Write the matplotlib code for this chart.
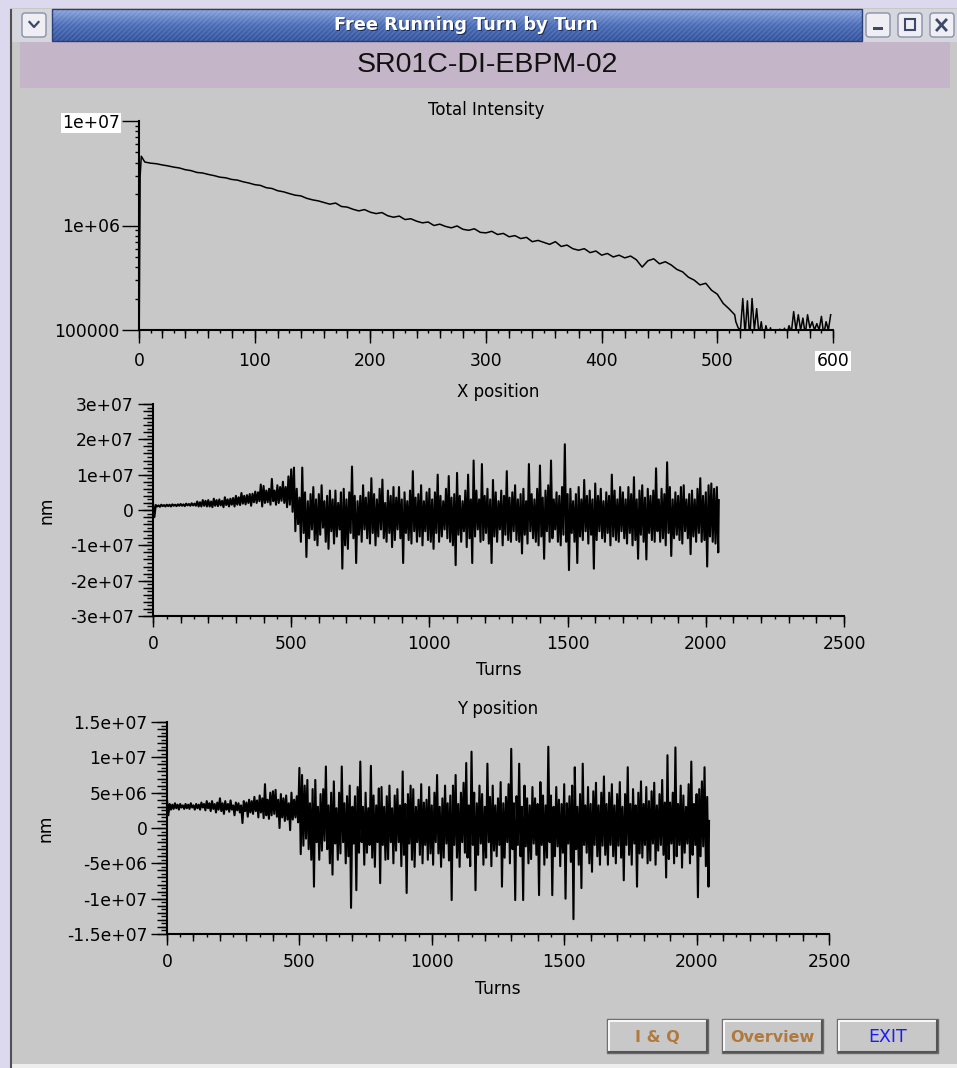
import numpy as np
import matplotlib
matplotlib.use("Agg")
import matplotlib.pyplot as plt
from matplotlib.ticker import MultipleLocator, FixedLocator, FuncFormatter, LogLocator, NullFormatter, NullLocator
from matplotlib.patches import Rectangle, FancyBboxPatch
from matplotlib.colors import LinearSegmentedColormap

# ---- data ----
# Total intensity (units of 1e6): turns 0,1,2, every 5 turns to 515, then every 2 turns
intensity_turns = [0, 1, 2] + list(range(5, 516, 5)) + list(range(516, 599, 2))
intensity_1e6 = [0.05, 3.0, 4.6,
    4.05, 3.95, 3.9, 3.8, 3.72, 3.62, 3.55, 3.42, 3.35, 3.22,
    3.18, 3.08, 3.0, 2.9, 2.86, 2.76, 2.72, 2.62, 2.55, 2.46,
    2.42, 2.3, 2.26, 2.15, 2.1, 2.02, 1.95, 1.92, 1.82, 1.76,
    1.72, 1.66, 1.6, 1.64, 1.52, 1.5, 1.43, 1.38, 1.42, 1.34,
    1.3, 1.33, 1.24, 1.2, 1.23, 1.14, 1.16, 1.1, 1.06, 1.08,
    1.0, 1.03, 0.98, 0.95, 0.99, 0.92, 0.9, 0.93, 0.86, 0.85,
    0.88, 0.82, 0.84, 0.78, 0.8, 0.75, 0.77, 0.7, 0.72, 0.69,
    0.66, 0.7, 0.63, 0.65, 0.6, 0.58, 0.6, 0.55, 0.57, 0.52,
    0.54, 0.5, 0.52, 0.49, 0.51, 0.47, 0.4, 0.46, 0.48, 0.43,
    0.45, 0.42, 0.38, 0.36, 0.32, 0.3, 0.27, 0.28, 0.24, 0.22,
    0.18, 0.16, 0.14,
    0.12, 0.105, 0.1, 0.2, 0.09, 0.19, 0.08, 0.2, 0.1, 0.16,
    0.09, 0.12, 0.08, 0.11, 0.09, 0.105, 0.08, 0.09, 0.07, 0.102,
    0.08, 0.104, 0.09, 0.11, 0.095, 0.15, 0.1, 0.14, 0.1, 0.13,
    0.09, 0.14, 0.105, 0.12, 0.1, 0.115, 0.1, 0.135, 0.09, 0.12,
    0.1, 0.14]

# X / Y position (units of 1e6 nm): highest and lowest reading in each 10-turn bin
bin_turns = list(range(0, 2041, 10))
last_turn = 2047
x_hi_1e6 = [
    2.0, 1.4, 1.3, 1.5, 1.4, 1.5, 1.5, 1.6, 1.5, 1.6,
    1.7, 1.6, 1.8, 1.7, 1.9, 1.8, 2.4, 2.2, 2.8, 2.6,
    2.8, 2.4, 3.2, 2.8, 3.0, 2.6, 3.6, 3.0, 3.2, 3.4,
    4.0, 3.6, 4.8, 4.0, 4.2, 4.5, 4.6, 5.2, 5.0, 7.2,
    6.8, 5.5, 6.0, 8.8, 5.5, 7.0, 6.5, 8.0, 6.5, 9.5,
    11.5, 12.0, 6.0, 3.5, 12.0, 5.0, 2.5, 4.5, 6.5, 3.0,
    4.5, 7.0, 2.5, 4.0, 5.5, 3.0, 5.5, 2.0, 5.0, 6.0,
    3.0, 5.0, 12.3, 4.0, 2.5, 4.0, 7.0, 3.5, 5.0, 9.0,
    4.5, 3.0, 6.0, 8.6, 2.0, 5.5, 4.0, 6.5, 3.5, 6.5,
    3.0, 5.0, 2.5, 5.5, 11.0, 3.5, 4.5, 7.0, 2.5, 5.0,
    6.0, 3.0, 5.0, 10.0, 4.0, 2.5, 6.0, 9.6, 3.5, 4.5,
    10.5, 4.0, 2.5, 5.5, 10.0, 3.0, 14.0, 5.5, 3.0, 13.0,
    4.0, 6.0, 3.0, 8.5, 5.0, 2.5, 5.5, 4.0, 11.0, 3.5,
    5.0, 7.0, 3.0, 4.5, 6.0, 2.5, 13.0, 4.5, 3.0, 6.0,
    12.6, 3.5, 5.5, 7.0, 14.0, 3.0, 5.0, 4.0, 6.5, 18.6,
    4.5, 6.0, 2.5, 4.5, 6.5, 3.0, 8.5, 4.0, 5.5, 3.0,
    7.5, 4.0, 6.0, 2.5, 5.0, 4.0, 10.0, 5.5, 3.0, 6.5,
    5.0, 3.0, 6.5, 4.5, 9.3, 3.0, 5.5, 7.0, 3.5, 6.0,
    4.0, 5.5, 11.8, 3.0, 6.0, 4.5, 13.5, 6.5, 3.0, 5.0,
    4.0, 6.5, 7.0, 3.0, 4.5, 5.5, 3.0, 6.0, 9.0, 4.0,
    5.0, 7.0, 7.5, 6.0, 6.5]
x_lo_1e6 = [
    -2.0, 1.0, 0.9, 1.1, 1.0, 1.1, 1.0, 1.2, 1.1, 1.2,
    1.2, 1.1, 1.3, 1.2, 1.3, 1.2, 1.0, 1.0, 1.2, 1.0,
    1.0, 0.8, 1.2, 1.1, 1.3, 0.8, 1.4, 1.0, 1.5, 1.0,
    1.5, 1.4, 1.8, 1.6, 2.0, 1.2, 2.2, 2.0, 2.5, 1.0,
    2.0, 2.2, 1.5, 2.5, 1.5, 2.0, 2.6, 2.0, 0.8, 1.5,
    -0.5, -6.0, -4.0, -9.0, -6.5, -13.3, -8.0, -5.5, -8.5, -10.0,
    -7.0, -5.0, -9.0, -11.0, -6.0, -9.5, -7.5, -5.5, -16.6, -10.0,
    -11.0, -6.5, -8.0, -15.0, -7.0, -9.0, -5.5, -8.0, -9.5, -6.5,
    -10.0, -7.5, -5.5, -8.0, -9.0, -6.5, -10.5, -8.5, -5.5, -8.0,
    -15.0, -6.5, -8.5, -9.5, -6.0, -9.0, -7.5, -10.0, -6.0, -8.5,
    -9.0, -11.0, -6.5, -9.0, -7.5, -5.5, -8.0, -9.0, -10.0, -15.6,
    -7.0, -9.0, -6.0, -10.5, -8.0, -15.0, -7.5, -5.5, -9.0, -8.5,
    -6.5, -9.5, -15.0, -7.5, -9.0, -5.5, -10.0, -7.0, -8.5, -9.0,
    -6.0, -8.5, -9.0, -12.3, -7.0, -9.5, -6.0, -8.0, -9.0, -10.0,
    -7.5, -13.8, -6.0, -9.0, -8.0, -5.5, -9.0, -10.0, -7.0, -9.0,
    -17.0, -6.5, -9.0, -15.0, -7.5, -8.5, -6.0, -9.5, -7.0, -16.6,
    -8.5, -6.0, -8.0, -9.0, -6.5, -10.0, -7.5, -8.5, -9.0, -6.0,
    -8.0, -9.5, -6.5, -10.0, -8.5, -13.8, -7.0, -9.0, -14.0, -6.5,
    -8.5, -9.0, -6.0, -9.0, -8.0, -10.0, -6.5, -13.0, -8.0, -7.0,
    -8.5, -9.5, -6.0, -8.0, -12.5, -7.5, -9.0, -6.5, -9.0, -8.5,
    -16.0, -7.5, -9.0, -9.5, -12.0]
x_last_1e6 = 2.8
y_hi_1e6 = [
    4.0, 3.4, 3.3, 3.5, 3.3, 3.4, 3.2, 3.4, 3.3, 3.5,
    3.2, 3.4, 3.3, 3.6, 3.4, 3.8, 3.5, 3.8, 3.4, 3.6,
    4.2, 3.5, 3.8, 3.4, 3.9, 3.2, 3.6, 3.5, 3.2, 3.8,
    3.6, 4.0, 3.8, 4.4, 3.9, 4.6, 4.2, 6.2, 4.0, 5.0,
    5.2, 5.4, 4.0, 4.8, 4.2, 4.6, 3.5, 5.0, 4.0, 4.5,
    8.5, 7.5, 6.0, 6.8, 3.5, 5.5, 6.8, 3.0, 4.8, 5.5,
    8.7, 3.2, 5.0, 6.6, 2.8, 5.0, 8.7, 3.5, 4.5, 6.0,
    3.0, 4.5, 5.8, 9.4, 3.0, 5.0, 2.8, 8.8, 4.6, 3.2,
    5.6, 5.8, 3.0, 4.5, 6.0, 2.8, 4.6, 5.5, 3.2, 8.0,
    3.4, 4.8, 6.0, 5.5, 3.0, 4.0, 6.2, 3.6, 4.0, 5.8,
    3.2, 5.0, 7.5, 3.0, 4.2, 6.0, 3.5, 4.6, 6.0, 7.5,
    3.4, 5.0, 6.4, 9.2, 3.2, 10.8, 5.0, 3.5, 6.0, 4.8,
    3.0, 9.1, 4.4, 6.0, 3.2, 4.2, 6.5, 3.5, 4.4, 6.2,
    11.2, 3.5, 4.5, 9.1, 3.0, 6.0, 4.2, 3.2, 5.8, 4.2,
    3.4, 6.5, 4.6, 3.2, 11.5, 4.6, 3.0, 5.8, 4.0, 3.4,
    6.2, 3.5, 4.5, 6.0, 8.6, 3.0, 4.8, 9.1, 3.2, 5.8,
    3.4, 5.2, 6.4, 3.2, 5.0, 7.3, 3.4, 5.0, 6.2, 3.2,
    4.8, 6.5, 3.0, 4.8, 8.6, 3.4, 5.5, 3.2, 5.0, 6.6,
    3.4, 5.8, 3.8, 5.2, 6.4, 3.2, 4.8, 6.8, 3.6, 10.3,
    3.6, 5.0, 11.4, 3.4, 6.0, 4.6, 3.0, 6.2, 9.4, 3.4,
    4.8, 5.5, 6.6, 8.6, 4.4]
y_lo_1e6 = [
    1.8, 2.6, 2.7, 2.8, 2.6, 2.9, 2.7, 2.8, 2.7, 2.9,
    2.6, 2.8, 2.6, 2.9, 2.5, 2.8, 2.4, 2.7, 2.2, 2.6,
    2.4, 2.0, 2.6, 2.3, 2.6, 1.8, 2.5, 2.2, 0.7, 2.4,
    1.6, 2.2, 2.0, 2.4, 1.5, 2.2, 1.4, 1.8, 1.3, 1.8,
    2.0, 1.6, 0.0, 1.5, 1.0, 1.2, -0.3, 1.2, 1.5, 0.8,
    -3.7, -2.5, -1.5, -3.0, -4.5, -8.3, -2.0, -4.5, -3.2, -1.8,
    -3.0, -5.0, -6.6, -2.2, -4.5, -3.6, -2.0, -5.0, -4.0, -11.3,
    -2.2, -8.8, -3.5, -2.0, -5.2, -3.5, -2.4, -4.2, -5.5, -2.0,
    -7.8, -2.4, -4.5, -4.4, -2.0, -5.0, -3.2, -2.0, -5.4, -3.8,
    -9.2, -2.2, -4.5, -5.5, -2.0, -3.8, -5.0, -2.4, -4.5, -3.6,
    -5.2, -2.0, -3.6, -5.5, -4.2, -2.2, -4.6, -10.2, -2.4, -4.2,
    -5.5, -2.0, -3.5, -4.2, -5.4, -2.4, -8.8, -3.8, -2.2, -5.2,
    -4.2, -2.0, -5.4, -3.2, -4.0, -2.4, -8.3, -4.2, -2.0, -5.0,
    -3.0, -10.2, -2.4, -4.0, -10.2, -2.6, -5.0, -4.4, -2.2, -3.8,
    -9.5, -2.4, -5.2, -4.2, -2.0, -9.5, -4.0, -2.6, -5.4, -3.5,
    -10.0, -2.2, -4.8, -12.9, -3.0, -5.2, -8.5, -2.4, -3.5, -5.0,
    -6.2, -2.4, -4.0, -5.2, -2.5, -3.8, -5.2, -2.4, -4.0, -5.0,
    -2.5, -4.2, -7.4, -2.4, -3.8, -5.2, -2.2, -8.3, -3.6, -4.2,
    -2.4, -5.0, -4.6, -2.2, -5.2, -3.2, -2.4, -3.8, -7.0, -4.4,
    -2.2, -5.0, -4.0, -2.4, -5.6, -3.5, -2.2, -5.0, -3.8, -2.4,
    -9.8, -4.0, -2.6, -5.4, -8.3]
y_last_1e6 = 1.0

plt.rcParams["font.family"] = "DejaVu Sans"
plt.rcParams["axes.unicode_minus"] = False

W, H = 957, 1068
fig = plt.figure(figsize=(W / 100, H / 100), dpi=100)
fig.patch.set_facecolor("#dcd9ef")


def px_axes(left, top, right, bottom):
    return fig.add_axes([left / W, 1 - bottom / H, (right - left) / W, (bottom - top) / H])


# ---- window decoration (pixel coordinates) ----
bg = px_axes(0, 0, W, H)
bg.set_zorder(-10)
bg.set_autoscale_on(False)
bg.set_xlim(0, W)
bg.set_ylim(H, 0)
bg.axis("off")

bg.add_patch(Rectangle((10, 8), W - 10, H - 8, fc="#c8c8c8", ec="none"))
bg.plot([11, 11], [10, H], color="#505050", lw=1.5)
bg.add_patch(Rectangle((12, 9), W - 12, 33, fc="#d6d6de", ec="none"))

# title bar
bar_cmap = LinearSegmentedColormap.from_list("bar", ["#8aa4dc", "#4a6cb6", "#33539c"])
bg.imshow(np.linspace(0, 1, 40).reshape(-1, 1), extent=(52, 862, 41, 9), cmap=bar_cmap,
          aspect="auto", zorder=1)
bar_rect = Rectangle((52, 9), 810, 32, fc="none", ec="#2a3f78", lw=1, zorder=3,
                     transform=bg.transData)
bg.add_patch(bar_rect)
for x0 in range(20, 880, 5):
    ln, = bg.plot([x0, x0 + 32], [41, 9], color="white", alpha=0.13, lw=1, zorder=2)
    ln.set_clip_path(bar_rect)
bg.text(467, 26, "Free Running Turn by Turn", color="#1c2a55", fontsize=12.8,
        fontweight="bold", ha="center", va="center", zorder=4)
bg.text(466, 25, "Free Running Turn by Turn", color="white", fontsize=12.8,
        fontweight="bold", ha="center", va="center", zorder=5)

# window buttons
for bx in [22, 866, 898, 930]:
    bg.add_patch(FancyBboxPatch((bx, 13), 24, 24, boxstyle="round,pad=0,rounding_size=3",
                                fc="#eeeef3", ec="#8891a8", lw=1, zorder=3))
bg.plot([29.5, 34, 38.5], [22, 27, 22], color="#3b4868", lw=1.6, zorder=4)
bg.add_patch(Rectangle((873, 27), 10, 3, fc="#3b4868", ec="none", zorder=4))
bg.add_patch(Rectangle((905, 19), 10, 11, fc="none", ec="#3b4868", lw=1.5, zorder=4))
bg.plot([937, 946], [20, 30], color="#3b4868", lw=2, zorder=4)
bg.plot([937, 946], [30, 20], color="#3b4868", lw=2, zorder=4)

# header band
bg.add_patch(Rectangle((20, 42), 930, 46, fc="#c5b5c8", ec="none"))
bg.text(487, 65, "SR01C-DI-EBPM-02", fontsize=20.5, family="Liberation Sans",
        ha="center", va="center", color="#111111")

# bottom buttons
def button(x0, x1, y0, y1, label, color, weight, size):
    bg.add_patch(Rectangle((x0, y0), x1 - x0, y1 - y0, fc="#c8c8c8", ec="#6a6a6a", lw=1))
    bg.plot([x0 + 1.5, x0 + 1.5, x1 - 2], [y1 - 2, y0 + 1.5, y0 + 1.5], color="#f6f6f6", lw=1.5)
    bg.plot([x0 + 2, x1 - 1.5, x1 - 1.5], [y1 - 1.5, y1 - 1.5, y0 + 2], color="#555555", lw=1.5)
    bg.text((x0 + x1) / 2, (y0 + y1) / 2 + 1, label, color=color, fontweight=weight,
            fontsize=size, ha="center", va="center")


button(607, 708, 1019, 1053, "I & Q", "#b07a3e", "bold", 11.5)
button(722, 823, 1019, 1053, "Overview", "#b07a3e", "bold", 11.5)
button(837, 938, 1019, 1053, "EXIT", "#1a1aff", "normal", 12.5)
bg.add_patch(Rectangle((12, 1064), W, 4, fc="#eeeeee", ec="none"))

# ---- plots ----
g_fmt = FuncFormatter(lambda v, p: "%g" % v)


def base_style(ax):
    ax.set_facecolor("none")
    for s in ["top", "right"]:
        ax.spines[s].set_visible(False)
    for s in ["left", "bottom"]:
        ax.spines[s].set_linewidth(1.5)
        ax.spines[s].set_color("black")
    ax.tick_params(which="both", direction="out", width=1, colors="black", labelsize=12.3)


def medium_ticks(ax, xstep, xlen, ystep, ylen):
    sx = ax.secondary_xaxis("bottom")
    sx.xaxis.set_major_locator(MultipleLocator(xstep))
    sx.xaxis.set_minor_locator(NullLocator())
    sx.tick_params(length=xlen, width=1, labelbottom=False, direction="out")
    sx.spines["bottom"].set_visible(False)
    if ystep:
        sy = ax.secondary_yaxis("left")
        sy.yaxis.set_major_locator(MultipleLocator(ystep))
        sy.yaxis.set_minor_locator(NullLocator())
        sy.tick_params(length=ylen, width=1, labelleft=False, direction="out")
        sy.spines["left"].set_visible(False)


# Total Intensity
ax1 = px_axes(139, 121, 833, 330)
base_style(ax1)
ax1.plot(intensity_turns, np.array(intensity_1e6) * 1e6, color="black", lw=1.1)
ax1.set_yscale("log")
ax1.set_xlim(0, 600)
ax1.set_ylim(1e5, 1e7)
ax1.yaxis.set_major_locator(FixedLocator([1e5, 1e6, 1e7]))
ax1.yaxis.set_minor_locator(LogLocator(base=10, subs=range(2, 10)))
ax1.yaxis.set_major_formatter(g_fmt)
ax1.yaxis.set_minor_formatter(NullFormatter())
ax1.xaxis.set_major_locator(FixedLocator(range(0, 601, 100)))
ax1.xaxis.set_minor_locator(MultipleLocator(10))
ax1.tick_params(axis="y", which="major", length=12.2, pad=1.5)
ax1.tick_params(axis="y", which="minor", length=3)
ax1.tick_params(axis="x", which="major", length=9.4, pad=6.5)
ax1.tick_params(axis="x", which="minor", length=2.2)
medium_ticks(ax1, 20, 5.8, None, 0)
ax1.set_title("Total Intensity", fontsize=12, pad=4)
ax1.yaxis.get_major_ticks()[2].label1.set_bbox(dict(fc="white", ec="none", pad=1))
ax1.xaxis.get_major_ticks()[6].label1.set_bbox(dict(fc="white", ec="none", pad=1))

# X / Y position: each bin drawn as its high then its low reading
specs = [
    ((153, 404, 844, 616), x_hi_1e6, x_lo_1e6, x_last_1e6, 3e7, 1e7, 2e6, 1e6, "X position", 10.8, 5, 661),
    ((167, 722, 829, 934), y_hi_1e6, y_lo_1e6, y_last_1e6, 1.5e7, 5e6, 1e6, 5e5, "Y position", 11.2, 5.5, 980),
]
for (l, t, r, b), hi, lo, last, ymax, ymaj, ymed, ymin, title, ymaj_len, tpad, xlab_top in specs:
    ax = px_axes(l, t, r, b)
    base_style(ax)
    turns = np.append(np.column_stack([bin_turns, np.array(bin_turns) + 5]).ravel(), last_turn)
    vals = np.append(np.column_stack([hi, lo]).ravel(), last) * 1e6
    ax.plot(turns, vals, color="black", lw=1.5)
    ax.set_xlim(0, 2500)
    ax.set_ylim(-ymax, ymax)
    ax.xaxis.set_major_locator(MultipleLocator(500))
    ax.xaxis.set_minor_locator(MultipleLocator(50))
    ax.yaxis.set_major_locator(MultipleLocator(ymaj))
    ax.yaxis.set_minor_locator(MultipleLocator(ymin))
    ax.yaxis.set_major_formatter(g_fmt)
    ax.xaxis.set_major_formatter(g_fmt)
    ax.tick_params(axis="x", which="major", length=7.9, pad=5.8)
    ax.tick_params(axis="x", which="minor", length=2.2)
    ax.tick_params(axis="y", which="major", length=ymaj_len, pad=3)
    ax.tick_params(axis="y", which="minor", length=4)
    medium_ticks(ax, 100, 5, ymed, 7)
    ax.set_title(title, fontsize=12, pad=tpad)
    ax.set_xlabel("Turns", fontsize=12.3)
    ax.xaxis.set_label_coords(0.5, -(xlab_top - b) / (b - t))
    ax.set_ylabel("nm", fontsize=12.3)
    ax.yaxis.set_label_coords(-(l - 55) / (r - l), 0.5)

fig.savefig("out.png", dpi=100, facecolor=fig.get_facecolor())
